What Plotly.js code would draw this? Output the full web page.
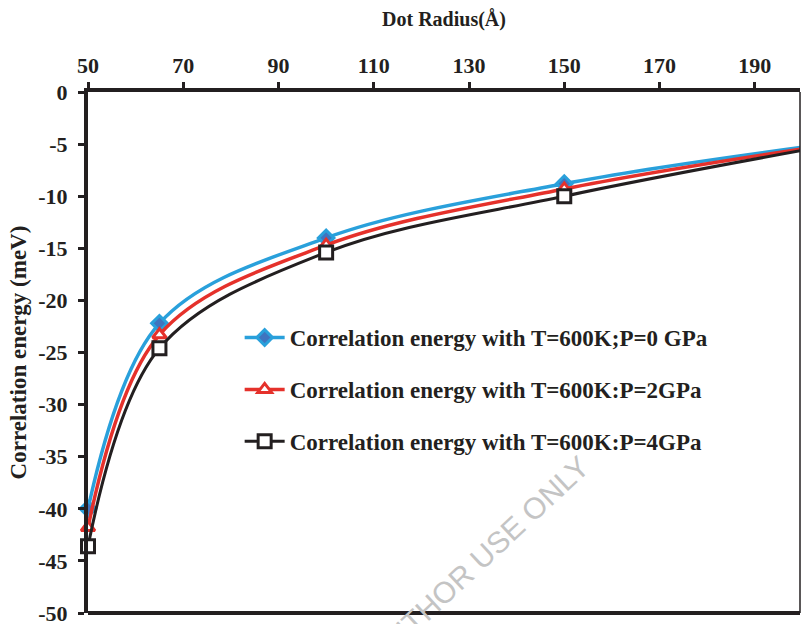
<!DOCTYPE html>
<html>
<head>
<meta charset="utf-8">
<script src="https://cdn.plot.ly/plotly-3.0.1.min.js"></script>
<style>html,body{margin:0;padding:0;background:#fff}#chart{width:801px;height:624px}</style>
</head>
<body>
<div id="chart"></div>
<script>
const dotRadius = [50, 65, 100, 150, 200];
const energyP0 = [-40.0, -22.2, -14.0, -8.8, -5.3];
const energyP2 = [-41.8, -23.3, -14.7, -9.3, -5.45];
const energyP4 = [-43.6, -24.6, -15.4, -10.0, -5.6];
const seriesNames = [
  'Correlation energy with T=600K;P=0 GPa',
  'Correlation energy with T=600K:P=2GPa',
  'Correlation energy with T=600K:P=4GPa'
];
const xTicks = [50, 70, 90, 110, 130, 150, 170, 190];
const yTicks = [0, -5, -10, -15, -20, -25, -30, -35, -40, -45, -50];

const serif = '"Liberation Serif", "Times New Roman", serif';
const ink = '#231f20';
const traces = [
  {x: dotRadius, y: energyP0, name: seriesNames[0], legendgroup: 'a',
   mode: 'lines+markers', line: {shape: 'spline', smoothing: 1, color: '#29a0db', width: 3.5},
   marker: {symbol: 'diamond', size: 12, color: '#3f74bf', line: {color: '#29a0db', width: 3}},
   cliponaxis: false},
  {x: dotRadius, y: energyP2, name: seriesNames[1], legendgroup: 'b',
   mode: 'lines+markers', line: {shape: 'spline', smoothing: 1, color: '#e5312b', width: 3.5},
   marker: {symbol: 'triangle-up', size: 12, color: '#ffffff', line: {color: '#e5312b', width: 3}},
   cliponaxis: false},
  {x: dotRadius, y: energyP4, name: seriesNames[2], legendgroup: 'c',
   mode: 'lines+markers', line: {shape: 'spline', smoothing: 1, color: ink, width: 3},
   marker: {symbol: 'square', size: 13, color: '#ffffff', line: {color: ink, width: 3}},
   cliponaxis: false}
];

const layout = {
  width: 801, height: 624,
  margin: {l: 88, r: 1, t: 92, b: 11},
  paper_bgcolor: '#fff', plot_bgcolor: '#fff',
  font: {family: serif, color: ink},
  showlegend: true,
  legend: {x: 0.213, y: 0.57, xanchor: 'left', yanchor: 'top',
    bgcolor: 'rgba(0,0,0,0)', tracegroupgap: 19, itemwidth: 40,
    font: {family: serif, size: 23, color: ink, weight: 'bold'}},
  xaxis: {side: 'top', range: [50, 199.5], tickvals: xTicks, ticktext: xTicks.map(String),
    showgrid: false, zeroline: false, showline: true, linecolor: ink, linewidth: 4,
    ticks: 'outside', ticklen: 6, tickwidth: 3, tickcolor: ink, ticklabelstandoff: 0,
    tickfont: {family: serif, size: 22, color: ink, weight: 'bold'},
    title: {text: 'Dot Radius(Å)', standoff: 22, font: {family: serif, size: 20, color: ink, weight: 'bold'}}},
  yaxis: {range: [-50, 0], tickvals: yTicks, ticktext: yTicks.map(String),
    showgrid: false, zeroline: false, showline: true, linecolor: ink, linewidth: 4,
    ticks: 'outside', ticklen: 6, tickwidth: 3, tickcolor: ink, ticklabelstandoff: 6,
    ticklabeloverflow: 'allow',
    tickfont: {family: serif, size: 22, color: ink, weight: 'bold'},
    title: {text: 'Correlation energy (meV)', standoff: 6, font: {family: serif, size: 23, color: ink, weight: 'bold'}}},
  shapes: [
    {type: 'line', xref: 'paper', yref: 'paper', x0: 0, x1: 1, y0: 0, y1: 0, line: {color: ink, width: 4}},
    {type: 'line', xref: 'paper', yref: 'paper', x0: 1, x1: 1, y0: 0, y1: 1, line: {color: ink, width: 1.5}}
  ],
  annotations: [
    {text: 'FOR AUTHOR USE ONLY', xref: 'paper', yref: 'paper', x: (455-88)/713, y: (613-582)/521,
     xanchor: 'center', yanchor: 'middle',
     showarrow: false, textangle: -43, font: {family: '"Liberation Sans", Arial, sans-serif', size: 30, color: '#c4c4c4'}}
  ]
};

Plotly.newPlot('chart', traces, layout, {displayModeBar: false, staticPlot: true});
</script>
</body>
</html>
